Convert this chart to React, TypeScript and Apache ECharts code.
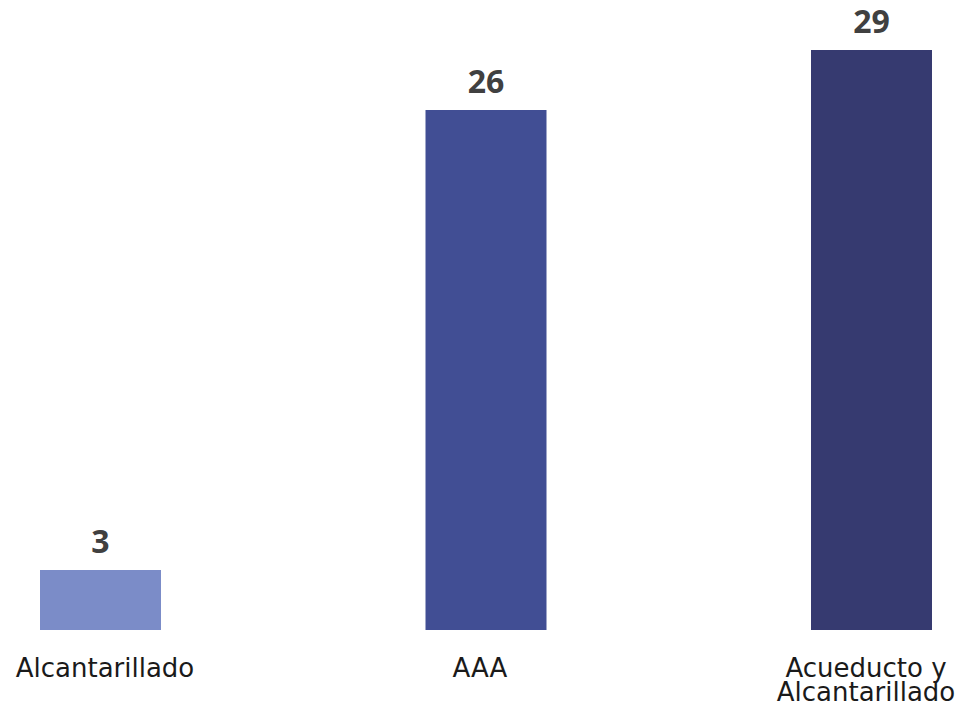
import React, { useEffect, useRef } from "react";
import * as echarts from "echarts";

const categories = ["Alcantarillado", "AAA", "Acueducto y\nAlcantarillado"];
const values = [3, 26, 29];
const barColors = ["#7B8CC8", "#414E94", "#363A70"];
// horizontal nudge of each category label (padding left/right)
const labelPads = [[0, 0, 0, 9], [0, 12, 0, 0], [0, 11, 0, 0]];

export default function App() {
  const ref = useRef<HTMLDivElement>(null);
  useEffect(() => {
    if (!ref.current) return;
    const chart = echarts.init(ref.current, undefined, { renderer: "svg" });
    chart.setOption({
      animation: false,
      backgroundColor: "#ffffff",
      grid: {
        left: 100.5,
        right: 89.5,
        top: 50,
        bottom: 84,
        containLabel: false,
        outerBoundsMode: "none",
      },
      xAxis: {
        type: "category",
        data: categories.map((c, i) => ({ value: c, textStyle: { padding: labelPads[i] } })),
        boundaryGap: false,
        axisLine: { show: false },
        axisTick: { show: false },
        splitLine: { show: false },
        axisLabel: {
          interval: 0,
          margin: 26,
          color: "#1a1a1a",
          fontFamily: "DejaVu Sans",
          fontSize: 26,
          lineHeight: 24,
          hideOverlap: false,
        },
      },
      yAxis: {
        type: "value",
        min: 0,
        max: 29,
        show: false,
        splitLine: { show: false },
      },
      series: [
        {
          type: "bar",
          barWidth: 121,
          data: values.map((v, i) => ({ value: v, itemStyle: { color: barColors[i] } })),
          label: {
            show: true,
            position: "top",
            distance: 15,
            color: "#404040",
            fontFamily: "Open Sans",
            fontWeight: "bold",
            fontSize: 32,
            lineHeight: 30,
          },
        },
      ],
    });
    return () => chart.dispose();
  }, []);
  return (
    <div
      ref={ref}
      style={{ position: "fixed", left: 0, top: 0, width: 961, height: 714 }}
    />
  );
}
